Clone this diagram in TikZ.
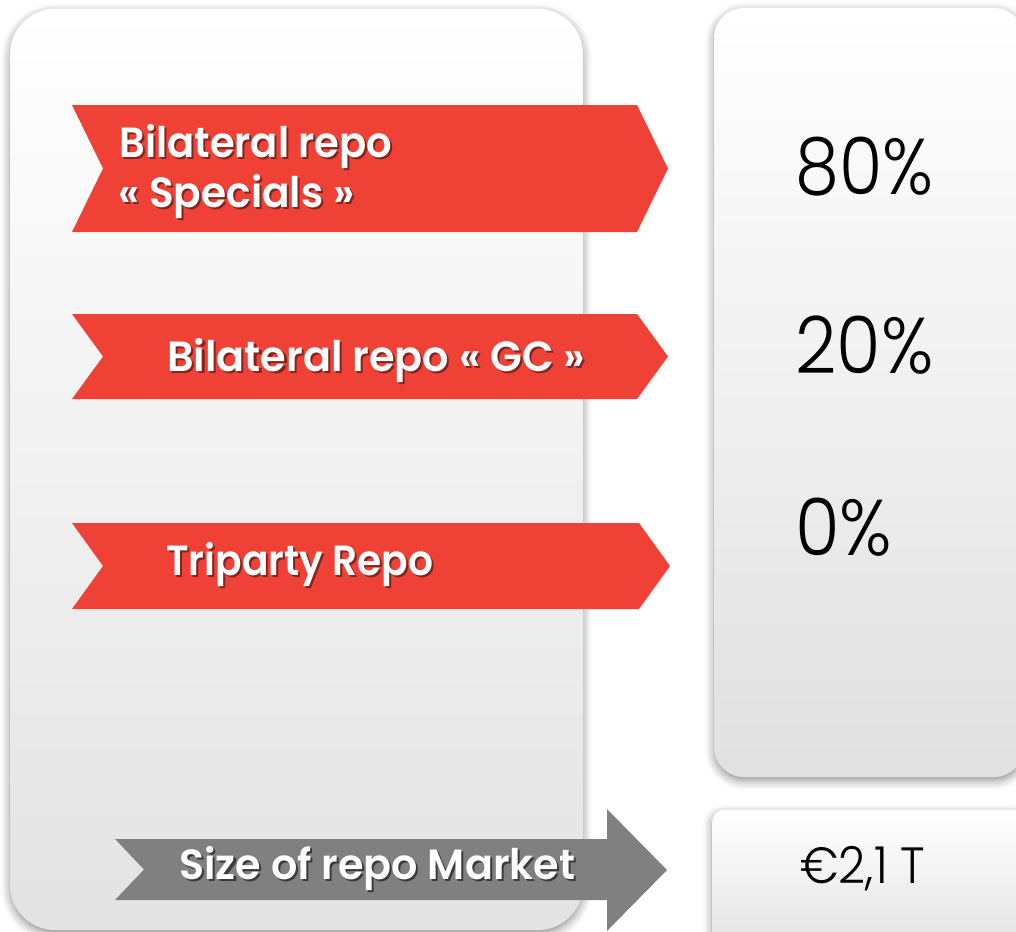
\documentclass[tikz,border=0pt]{standalone}
\usepackage{fontspec}
\usetikzlibrary{shadows.blur}
\newfontfamily\labfont{Poppins}[BoldFont={Poppins SemiBold}]
\newfontfamily\numfont{Poppins Light}
\definecolor{repored}{RGB}{239,65,54}
\definecolor{arrowgray}{RGB}{128,128,128}
\newcommand\shtext[2]{\makebox[0pt][l]{\kern1.2pt\raisebox{-1.2pt}{\textcolor{#1}{#2}}}\textcolor{white}{#2}}
\newcommand\fitw[2]{\resizebox{#1}{\height}{#2}}

\begin{document}
\begin{tikzpicture}[x=0.02cm, y=-0.02cm,
  panel/.style={blur shadow={shadow xshift=0pt, shadow yshift=-2pt, shadow blur radius=5pt, shadow opacity=45}},
  chev/.style={fill=repored},
  lab/.style={inner sep=0pt, anchor=base west, font=\fontsize{24}{28}\selectfont\labfont\bfseries},
  num/.style={inner sep=0pt, anchor=base west, font=\fontsize{45}{50}\selectfont\numfont}]
\useasboundingbox (0,0) rectangle (1016,931);
\clip (0,0) rectangle (1016,931);

\path[panel, rounded corners=0.9cm, top color=white, middle color=white!97!black, bottom color=white!89!black] (10,9) rectangle (583,930);
\path[panel, rounded corners=0.6cm, top color=white, middle color=white!99!black, bottom color=white!88!black] (714,8) rectangle (1024,777);
\path[panel, rounded corners=0.24cm, top color=white, middle color=white, bottom color=white!88!black] (712,810) rectangle (1024,960);

\fill[chev] (72,105) -- (637,105) -- (668,168.5) -- (637,232) -- (72,232) -- (103,168.5) -- cycle;
\fill[chev] (72,314) -- (637,314) -- (668,356.5) -- (637,399) -- (72,399) -- (103,356.5) -- cycle;
\fill[chev] (72,523) -- (639,523) -- (670,566) -- (639,609) -- (72,609) -- (103,566) -- cycle;
\fill[arrowgray] (115,839) -- (607,839) -- (607,809) -- (667,870) -- (607,931) -- (607,900) -- (115,900) -- (144,869.5) -- cycle;

\node[lab] (spec1) at (119,157) {\fitw{5.46cm}{\shtext{repored!55!black}{Bilateral repo}}};
\node[lab] (spec2) at (118,207) {\fitw{4.72cm}{\shtext{repored!55!black}{« Specials »}}};
\node[lab] (gc) at (167,371) {\fitw{8.36cm}{\shtext{repored!55!black}{Bilateral repo « GC »}}};
\node[lab] (tri) at (166,575) {\fitw{5.34cm}{\shtext{repored!55!black}{Triparty Repo}}};
\node[lab] (market) at (179,879) {\fitw{7.92cm}{\shtext{arrowgray!45!black}{Size of repo Market}}};

\node[num] (p80) at (795,194) {\fitw{2.76cm}{80\%}};
\node[num] (p20) at (795,373) {\fitw{2.76cm}{20\%}};
\node[num] (p0) at (795,555) {\fitw{1.94cm}{0\%}};
\node[num, font=\fontsize{29}{34}\selectfont\numfont] (size) at (800,883) {\fitw{2.5cm}{€2,1 T}};
\end{tikzpicture}
\end{document}
